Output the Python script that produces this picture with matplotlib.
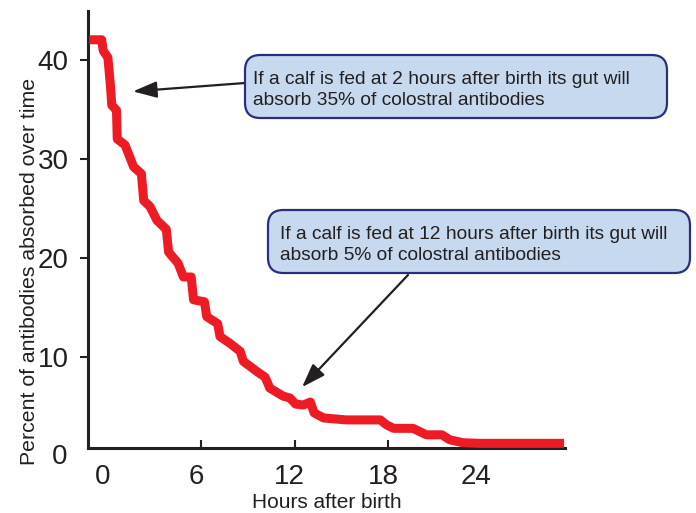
import matplotlib
matplotlib.use("Agg")
import matplotlib.pyplot as plt
from matplotlib.patches import FancyBboxPatch
import matplotlib.transforms as mtransforms

plt.rcParams['font.family'] = ['Liberation Sans', 'DejaVu Sans']

# data
hours = [-1.2, -0.4, -0.3, 0.0, 0.15, 0.25, 0.55, 0.6, 1.1, 1.65, 2.15, 2.3, 2.7,
         3.15, 3.75, 3.9, 4.5, 4.85, 5.35, 5.5, 6.2, 6.35, 7.05, 7.2, 7.85, 8.5,
         8.7, 9.55, 10.1, 10.4, 11.25, 11.7, 12.05, 12.55, 13.0, 13.25, 13.85,
         15.3, 17.5, 17.9, 18.35, 19.6, 20.45, 21.45, 21.95, 22.8, 23.9, 29.3]
percent = [42.0, 42.0, 40.9, 40.2, 37.6, 35.4, 34.9, 32.0, 31.4, 29.2, 28.5, 25.8,
           25.2, 23.8, 22.9, 20.6, 19.5, 18.1, 18.1, 15.8, 15.6, 14.1, 13.4, 12.1,
           11.4, 10.6, 9.6, 8.6, 8.0, 6.9, 6.1, 5.9, 5.3, 5.2, 5.5, 4.4, 3.9, 3.7,
           3.7, 3.2, 2.85, 2.85, 2.2, 2.2, 1.7, 1.4, 1.34, 1.34]
xticks = [0, 6, 12, 18, 24]
yticks = [10, 20, 30, 40]

note1 = "If a calf is fed at 2 hours after birth its gut will\nabsorb 35% of colostral antibodies"
note2 = "If a calf is fed at 12 hours after birth its gut will\nabsorb 5% of colostral antibodies"

W, H = 696, 513
txt = '#231f20'


def px(x, y):
    # pixel (from top-left) -> figure fraction
    return (x / W, 1 - y / H)


fig = plt.figure(figsize=(W / 100, H / 100), dpi=100)
ax = fig.add_axes([88.3 / W, (H - 448.3) / H, (565 - 88.3) / W, (448.3 - 11) / H])

ax.plot(hours, percent, color='#ed1c24', lw=6.5, solid_joinstyle='round',
        solid_capstyle='butt', clip_on=False, zorder=3)

ax.set_xlim(-1.26, 29.36)
ax.set_ylim(0.84, 44.9)

for s in ['top', 'right']:
    ax.spines[s].set_visible(False)
for s in ['left', 'bottom']:
    ax.spines[s].set_linewidth(2.2)
    ax.spines[s].set_color(txt)

ax.set_xticks(xticks)
ax.set_yticks(yticks)
ax.xaxis.get_major_ticks()[0].tick1line.set_visible(False)
ax.tick_params(axis='x', direction='in', length=6, width=1.5, color=txt,
               pad=11.5, labelsize=20, labelcolor=txt)
ax.tick_params(axis='y', direction='out', length=6, width=1.5, color=txt,
               pad=8, labelsize=20, labelcolor=txt)
shift = mtransforms.ScaledTranslation(-5 / 100, 0, fig.dpi_scale_trans)
for lab in ax.get_xticklabels():
    lab.set_transform(lab.get_transform() + shift)

# "0" on the y axis sits below the x axis line
trans = mtransforms.blended_transform_factory(ax.transAxes, ax.transData)
ax.text(-0.043, 0, "0", transform=trans, ha='right', va='center',
        fontsize=20, color=txt, clip_on=False)

ax.set_xlabel("Hours after birth", fontsize=15, color=txt)
ax.xaxis.set_label_coords(0.5, -0.1365)
ax.xaxis.label.set_va('baseline')
ax.set_ylabel("Percent of antibodies absorbed over time", fontsize=15.3, color=txt)
ax.yaxis.set_label_coords(-0.104, 0.405)

# callout boxes
for (x0, y0, x1, y1) in [(245, 55, 667, 118), (268, 210, 690, 273)]:
    (fx0, fy1), (fx1, fy0) = px(x0, y0), px(x1, y1)
    box = FancyBboxPatch((fx0, fy0), fx1 - fx0, fy1 - fy0,
                         boxstyle="round,pad=0,rounding_size=0.022",
                         transform=fig.transFigure, facecolor='#c6d9ef',
                         edgecolor='#2b2e7c', lw=1.6, mutation_aspect=W / H)
    fig.add_artist(box)

fig.text(*px(253, 90), note1, ha='left', va='center', fontsize=13.8,
         color=txt, linespacing=1.28)
fig.text(*px(280, 245), note2, ha='left', va='center', fontsize=13.8,
         color=txt, linespacing=1.28)

arrow = dict(arrowstyle='-|>,head_length=1.45,head_width=0.5', color=txt,
             lw=1.6, shrinkA=0, shrinkB=0)
ax.annotate("", xy=(1.61, 36.8), xycoords='data',
            xytext=px(245, 83), textcoords='figure fraction', arrowprops=arrow)
ax.annotate("", xy=(12.47, 7.0), xycoords='data',
            xytext=px(408, 275), textcoords='figure fraction', arrowprops=arrow)

fig.savefig("out.png", dpi=100)
